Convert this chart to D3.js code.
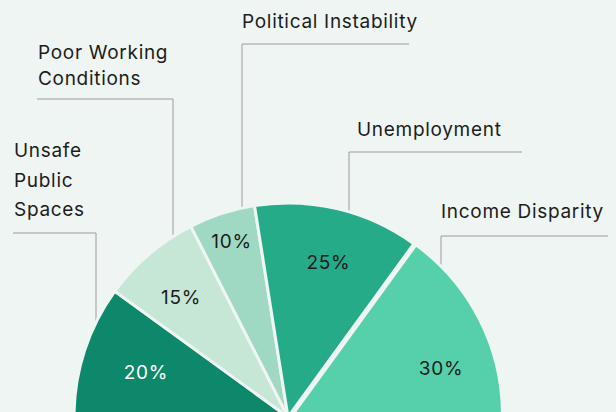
<!DOCTYPE html>
<html>
<head>
<meta charset="utf-8">
<script src="https://cdn.jsdelivr.net/npm/d3@7"></script>
<style>
    body { margin: 0; background: #eff5f3; }
    svg { display: block; }
    text { font-family: Inter, "Noto Sans", sans-serif; font-size: 19px; letter-spacing: 0.7px; fill: #1c1c1c; }
</style>
</head>
<body>
<div id="vis"></div>
<script>

let categories = ['Unsafe Public Spaces', 'Poor Working Conditions', 'Political Instability', 'Unemployment', 'Income Disparity'];
let values = [20, 15, 10, 25, 30];
let valueLabels = ['20%', '15%', '10%', '25%', '30%'];
let colors = ['#0e886a', '#c6e7d6', '#a0d9c3', '#26ab89', '#56d0ab'];

// label text split in lines
let labelLines = [['Unsafe', 'Public', 'Spaces'], ['Poor Working', 'Conditions'], ['Political Instability'], ['Unemployment'], ['Income Disparity']];

// leader line layout: x of the vertical line, y of the elbow, x of the far end, text x, first baseline, line gap
let leaders = [
    {x: 96, elbow: 233, end: 13, tx: 14, ty: 157, gap: 29.7},
    {x: 173, elbow: 99, end: 37, tx: 38, ty: 59, gap: 26},
    {x: 242, elbow: 44, end: 409, tx: 242, ty: 28, gap: 0},
    {x: 349, elbow: 152, end: 522, tx: 357, ty: 136, gap: 0},
    {x: 441, elbow: 236, end: 608, tx: 441, ty: 218, gap: 0}
];

// nudges for the percent labels (from arc centroid)
let labelNudge = [[10, 5], [-3, 2], [-7, -23], [3, 1], [6, 26]];

let width = 616, height = 412;
let cx = 288, cy = 417, radius = 214;
let bg = '#eff5f3';

let svg = d3.select('#vis')
    .append('svg')
    .attr('width', width)
    .attr('height', height);

svg.append('rect')
    .attr('width', width)
    .attr('height', height)
    .attr('fill', bg);

let data = categories.map((c, i) => ({label: c, value: values[i], text: valueLabels[i], color: colors[i], idx: i}));

let pie = d3.pie()
    .value(d => d.value)
    .sort(null)
    .startAngle(-Math.PI / 2)
    .endAngle(Math.PI / 2);

let arcs = pie(data);

let arc = d3.arc().innerRadius(0).outerRadius(radius);
let arcSmall = d3.arc().innerRadius(0).outerRadius(radius - 4);
let labelArc = d3.arc().innerRadius(160).outerRadius(160);

// leader lines (under the pie)
let lines = svg.append('g').attr('class', 'leaders');

leaders.forEach(function(l, i) {
    let dx = l.x - cx;
    let yArc = cy - Math.sqrt(radius * radius - dx * dx);
    lines.append('path')
        .attr('d', 'M' + l.end + ',' + l.elbow + 'H' + l.x + 'V' + (yArc + 2))
        .attr('fill', 'none')
        .attr('stroke', '#9b9b9b')
        .attr('stroke-width', 1);

    let t = lines.append('text')
        .attr('x', l.tx)
        .attr('y', l.ty);
    labelLines[i].forEach(function(s, j) {
        t.append('tspan')
            .attr('x', l.tx)
            .attr('y', l.ty + j * l.gap)
            .text(s);
    });
});

let g = svg.append('g')
    .attr('transform', 'translate(' + cx + ',' + cy + ')');

let slices = g.selectAll('g.slice')
    .data(arcs)
    .enter()
    .append('g')
    .attr('class', 'slice')
    .attr('transform', function(d) {
        // pull the last slice out a little
        if (d.index !== arcs.length - 1) return null;
        let mid = (d.startAngle + d.endAngle) / 2;
        return 'translate(' + (Math.sin(mid) * 5) + ',' + (-Math.cos(mid) * 5) + ')';
    });

slices.append('path')
    .attr('d', d => d.index === arcs.length - 1 ? arcSmall(d) : arc(d))
    .attr('fill', d => d.data.color)
    .attr('stroke', bg)
    .attr('stroke-width', 3)
    .attr('stroke-linejoin', 'round');

g.selectAll('text.pct')
    .data(arcs)
    .enter()
    .append('text')
    .attr('class', 'pct')
    .attr('transform', function(d) {
        let c = labelArc.centroid(d);
        let n = labelNudge[d.index];
        if (d.index === arcs.length - 1) {
            let mid = (d.startAngle + d.endAngle) / 2;
            c = [c[0] + Math.sin(mid) * 5, c[1] - Math.cos(mid) * 5];
        }
        return 'translate(' + (c[0] + n[0]) + ',' + (c[1] + n[1]) + ')';
    })
    .attr('text-anchor', 'middle')
    .attr('dy', '0.35em')
    .style('fill', d => d.index === 0 ? '#ffffff' : '#1c1c1c')
    .text(d => d.data.text);

</script>
</body>
</html>
